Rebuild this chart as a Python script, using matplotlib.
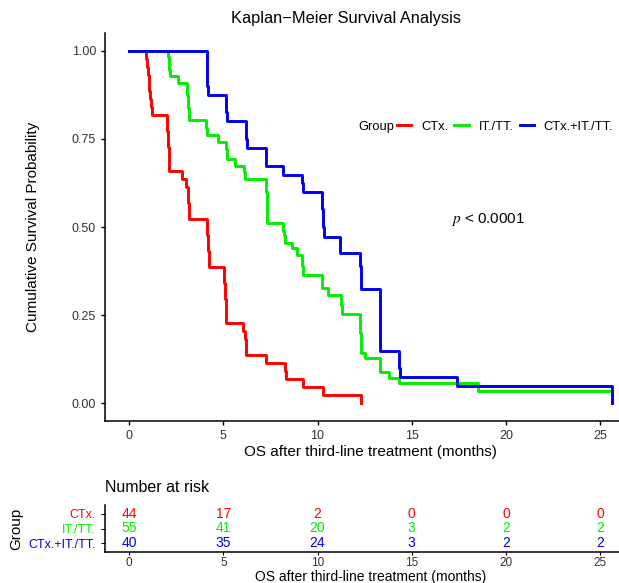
import matplotlib.pyplot as plt

plt.rcParams['font.family'] = ['Liberation Sans', 'DejaVu Sans']
plt.rcParams['mathtext.fontset'] = 'stix'

# survival curves (time in months, survival prob)
groups = ['CTx.', 'IT./TT.', 'CTx.+IT./TT.']
colors = ['#FF0000', '#00EE00', '#0000EE']

ctx_time = [0, 0.9, 0.95, 1.0, 1.03, 1.06, 1.1, 1.15, 1.22, 2.02, 2.06, 2.1, 2.14,
            2.81, 3.0, 3.13, 3.16, 3.2, 4.14, 4.18, 4.22, 5.04, 5.08, 5.12, 5.16,
            6.05, 6.16, 6.2, 7.27, 8.28, 8.32, 9.24, 10.3, 12.3]
ctx_surv = [1.0, 0.977, 0.955, 0.932, 0.909, 0.886, 0.864, 0.841, 0.818, 0.773, 0.727, 0.682, 0.659,
            0.636, 0.614, 0.568, 0.545, 0.523, 0.477, 0.432, 0.386, 0.341, 0.295, 0.25, 0.227,
            0.205, 0.182, 0.136, 0.114, 0.091, 0.068, 0.045, 0.023, 0.0]

ittt_time = [0, 2.07, 2.1, 2.13, 2.16, 2.6, 3.08, 3.12, 3.16, 4.09, 4.12, 4.72, 5.15, 5.2,
             5.6, 6.1, 6.14, 7.27, 7.3, 7.34, 8.17, 8.2, 8.25, 8.65, 8.9, 9.18, 9.22,
             10.24, 10.56, 11.25, 11.3, 12.26, 12.3, 12.5, 13.3, 13.8, 14.3, 18.5, 25.6]
ittt_surv = [1.0, 0.982, 0.964, 0.945, 0.927, 0.909, 0.873, 0.836, 0.804, 0.782, 0.761, 0.741, 0.72, 0.693,
             0.673, 0.655, 0.636, 0.6, 0.56, 0.511, 0.49, 0.477, 0.455, 0.44, 0.42, 0.39, 0.364,
             0.327, 0.307, 0.28, 0.253, 0.2, 0.142, 0.128, 0.088, 0.071, 0.057, 0.034, 0.034]

combo_time = [0, 4.14, 4.18, 5.15, 5.18, 6.2, 6.24, 7.27, 8.17, 9.18, 9.22, 10.24, 10.28, 10.32,
              11.2, 12.26, 12.3, 13.3, 13.34, 14.33, 14.37, 17.4, 25.6]
combo_surv = [1.0, 0.9, 0.875, 0.825, 0.8, 0.75, 0.724, 0.673, 0.648, 0.625, 0.6, 0.55, 0.5, 0.472,
              0.426, 0.39, 0.324, 0.25, 0.148, 0.1, 0.074, 0.048, 0.0]

# number at risk table
risk_times = [0, 5, 10, 15, 20, 25]
ctx_risk = [44, 17, 2, 0, 0, 0]
ittt_risk = [55, 41, 20, 3, 2, 2]
combo_risk = [40, 35, 24, 3, 2, 2]

xlim = (-1.28, 26.9)
W, H = 619, 583

fig = plt.figure(figsize=(6.19, 5.83), dpi=100)

# main KM panel
ax = fig.add_axes([105 / W, 162 / H, (636 - 105) / W, 388 / H])
curves = [(ctx_time, ctx_surv), (ittt_time, ittt_surv), (combo_time, combo_surv)]
for (t, s), c, g in zip(curves, colors, groups):
    ax.step(t, s, where='post', color=c, lw=2.1, label=g)

ax.set_xlim(*xlim)
ax.set_ylim(-0.05, 1.05)
ax.set_xticks(risk_times)
ax.set_yticks([0, 0.25, 0.5, 0.75, 1.0])
ax.set_yticklabels(['0.00', '0.25', '0.50', '0.75', '1.00'])
for side in ['top', 'right']:
    ax.spines[side].set_visible(False)
for side in ['left', 'bottom']:
    ax.spines[side].set_linewidth(1.1)
ax.tick_params(labelsize=9, length=3, width=1, colors='black', labelcolor='#333333')
ax.set_xlabel('OS after third-line treatment (months)', fontsize=11, labelpad=2)
ax.set_ylabel('Cumulative Survival Probability', fontsize=11, labelpad=23)

fig.text(346 / W, 1 - 18 / H, 'Kaplan\u2212Meier Survival Analysis', ha='center', va='center', fontsize=11.8)

# legend in a single row with "Group" title on the left
leg = ax.legend(loc='center left', bbox_to_anchor=(397 / W, 1 - 127 / H),
                bbox_transform=fig.transFigure, ncol=3, frameon=False, fontsize=9.3,
                handlelength=1.1, handletextpad=0.75, columnspacing=0.5, borderpad=0,
                borderaxespad=0)
fig.text(394 / W, 1 - 127 / H, 'Group', ha='right', va='center', fontsize=9.3)

ax.text(17.1, 0.52, r'$p$ < 0.0001', fontsize=11, va='center')

# risk table
rax = fig.add_axes([105 / W, 1 - 552 / H, (636 - 105) / W, 47 / H])
risk_rows = [ctx_risk, ittt_risk, combo_risk]
ypos = [3, 2, 1]
for row, y, c in zip(risk_rows, ypos, colors):
    for t, n in zip(risk_times, row):
        rax.text(t, y, str(n), color=c, ha='center', va='center', fontsize=10)
rax.set_xlim(*xlim)
rax.set_ylim(0.4, 3.6)
rax.set_xticks(risk_times)
rax.set_yticks(ypos)
rax.set_yticklabels(groups, fontsize=9)
for lab, c in zip(rax.get_yticklabels(), colors):
    lab.set_color(c)
for side in ['top', 'right']:
    rax.spines[side].set_visible(False)
for side in ['left', 'bottom']:
    rax.spines[side].set_linewidth(1.1)
rax.tick_params(axis='x', labelsize=8.5, length=2, pad=1.5, labelcolor='#333333')
rax.tick_params(axis='y', length=3)
rax.set_xlabel('OS after third-line treatment (months)', fontsize=10, labelpad=1)
rax.set_ylabel('Group', fontsize=11, labelpad=4)
rax.set_title('Number at risk', loc='left', fontsize=11.5, pad=9)

fig.savefig('out.png', dpi=100)
